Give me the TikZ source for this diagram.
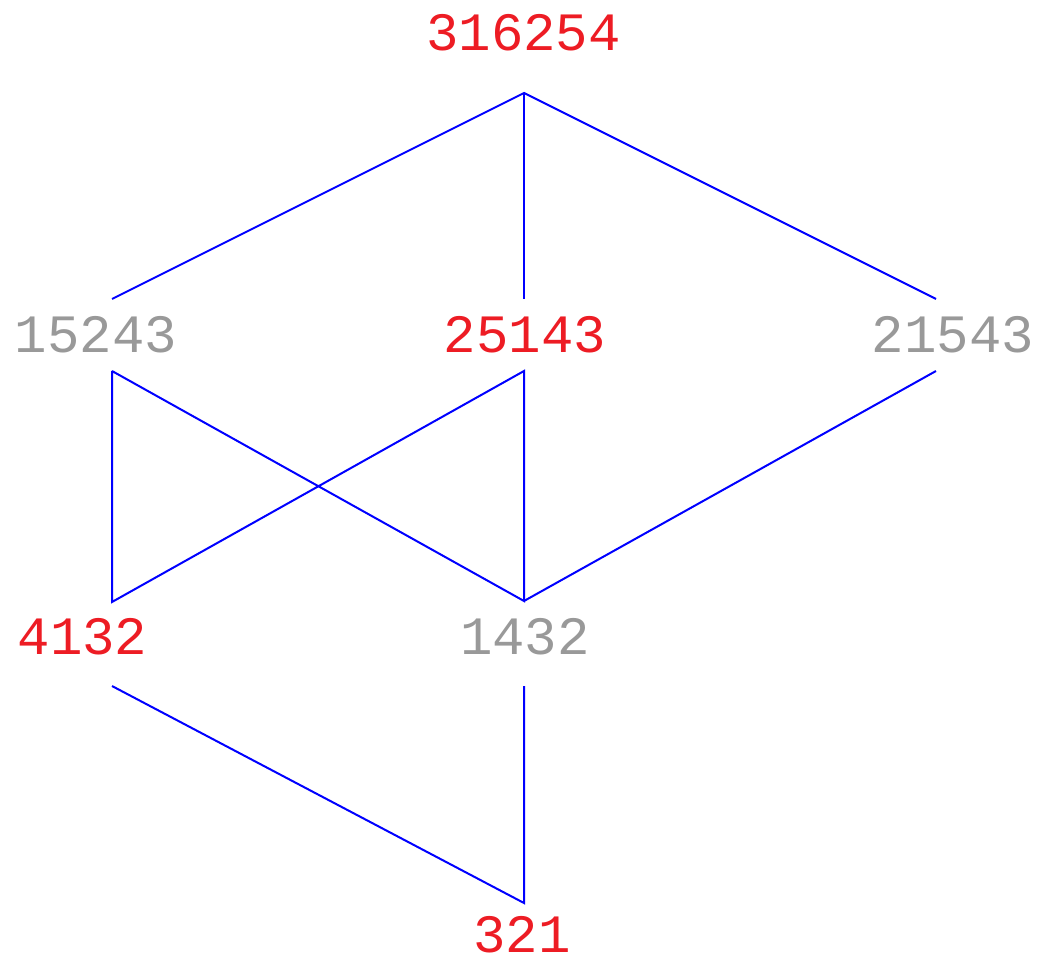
\documentclass[tikz,border=0pt]{standalone}
\usepackage{fontspec}
\newfontfamily\labfont{Liberation Mono}
\definecolor{labred}{RGB}{237,28,36}
\definecolor{labgray}{RGB}{153,153,153}
\definecolor{edgeblue}{RGB}{0,0,255}
\begin{document}
\begin{tikzpicture}[x=0.5pt,y=-0.5pt,
  lab/.style={inner sep=0pt,font=\labfont\fontsize{27}{32}\selectfont},
  hi/.style={lab,text=labred},
  lo/.style={lab,text=labgray},
  edge/.style={draw=edgeblue,line width=1pt,line join=miter}]
\useasboundingbox (0,0) rectangle (1039,962);
% labels
\node[hi] (n316254) at (523.5,32.5) {316254};
\node[lo] (n15243) at (96,335) {15243};
\node[hi] (n25143) at (525,335) {25143};
\node[lo] (n21543) at (953,335) {21543};
\node[hi] (n4132) at (82.5,637) {4132};
\node[lo] (n1432) at (525,637) {1432};
\node[hi] (n321) at (522,935) {321};
% connector ends
\coordinate (n316254b) at (524,93);
\coordinate (n15243t) at (112,299);
\coordinate (n15243b) at (112,371);
\coordinate (n25143t) at (524,299);
\coordinate (n25143b) at (524,371);
\coordinate (n21543t) at (936,299);
\coordinate (n21543b) at (936,371);
\coordinate (n4132t) at (112,602);
\coordinate (n4132b) at (112,686);
\coordinate (n1432t) at (524,601);
\coordinate (n1432b) at (524,686);
\coordinate (n321t) at (524,903);
% edges
\draw[edge] (n15243t) -- (n316254b) -- (n21543t);
\draw[edge] (n316254b) -- (n25143t);
\draw[edge] (n15243b) -- (n4132t) -- (n25143b) -- (n1432t) -- (n15243b);
\draw[edge] (n21543b) -- (n1432t);
\draw[edge] (n4132b) -- (n321t) -- (n1432b);
\end{tikzpicture}
\end{document}
